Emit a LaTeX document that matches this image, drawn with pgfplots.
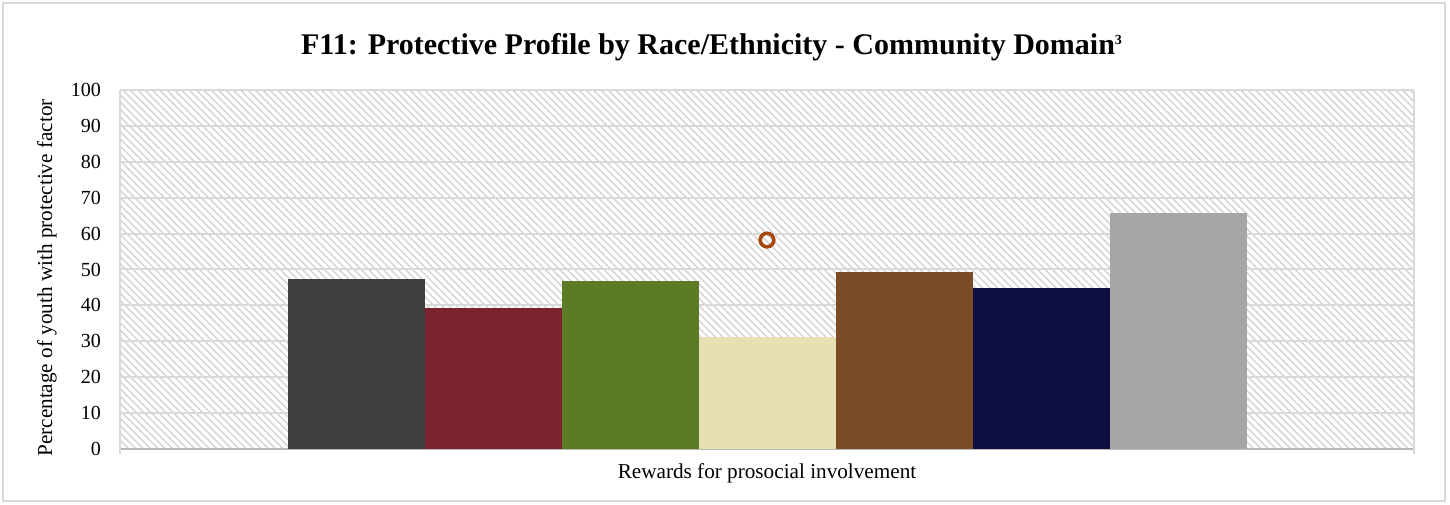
\documentclass[border=0pt]{standalone}
\usepackage{fontspec}
\setmainfont{Liberation Serif}
\usepackage{pgfplots}
\pgfplotsset{compat=1.18}
\usetikzlibrary{patterns.meta}
\definecolor{c1}{RGB}{64,64,64}
\definecolor{c2}{RGB}{123,36,48}
\definecolor{c3}{RGB}{91,123,39}
\definecolor{c4}{RGB}{230,224,178}
\definecolor{c5}{RGB}{123,76,37}
\definecolor{c6}{RGB}{15,14,64}
\definecolor{c7}{RGB}{166,166,166}
\definecolor{mk}{RGB}{166,72,14}
\definecolor{gridc}{RGB}{217,217,217}
\definecolor{hatch}{RGB}{210,210,210}
\begin{document}
\begin{tikzpicture}[x=1pt,y=1pt]
\path[use as bounding box] (0,0) rectangle (725,252);
\draw[color=gridc, line width=1pt] (1.5,1.5) rectangle (722.5,250.5);
\node[anchor=base, font=\bfseries\fontsize{15}{18}\selectfont] at (356,224.5) {F11: Protective Profile by Race/Ethnicity - Community Domain\textsuperscript{\fontsize{7}{8}\selectfont 3}};
\node[rotate=90, font=\fontsize{10.6}{12}\selectfont] at (23.5,113) {Percentage of youth with protective factor};
\begin{axis}[
  at={(60pt,27.5pt)}, anchor=south west,
  scale only axis, width=647pt, height=179.5pt,
  xmin=-1, xmax=1, ymin=0, ymax=100,
  ytick={0,10,...,100},
  xtick={0}, xticklabels={Rewards for prosocial involvement},
  major tick length=0pt,
  ymajorgrids,
  grid style={color=gridc, line width=1pt},
  axis x line*=bottom, axis y line*=left,
  x axis line style={color=gray!55, line width=0.8pt},
  y axis line style={color=gridc, line width=1pt},
  axis background/.style={pattern={Lines[angle=-45, distance=2.6pt, line width=0.7pt]}, pattern color=hatch},
  ticklabel style={font=\fontsize{10}{12}\selectfont},
  /pgf/number format/assume math mode=true,
  yticklabel style={xshift=-6pt},
  xticklabel style={font=\fontsize{10.6}{12}\selectfont, yshift=-4pt},
  clip=false,
]
\draw[color=gridc, line width=1pt] (axis cs:1,-1.5) -- (axis cs:1,100);
\draw[color=gridc, line width=1pt] (axis cs:-1,-1.5) -- (axis cs:-1,100);
\addplot[ybar, bar width=68.5pt, bar shift=-205.5pt, fill=c1, draw=none] coordinates {(0,47.4)};
\addplot[ybar, bar width=68.5pt, bar shift=-137pt, fill=c2, draw=none] coordinates {(0,39.4)};
\addplot[ybar, bar width=68.5pt, bar shift=-68.5pt, fill=c3, draw=none] coordinates {(0,46.8)};
\addplot[ybar, bar width=68.5pt, bar shift=0pt, fill=c4, draw=none] coordinates {(0,31.2)};
\addplot[ybar, bar width=68.5pt, bar shift=68.5pt, fill=c5, draw=none] coordinates {(0,49.3)};
\addplot[ybar, bar width=68.5pt, bar shift=137pt, fill=c6, draw=none] coordinates {(0,44.8)};
\addplot[ybar, bar width=68.5pt, bar shift=205.5pt, fill=c7, draw=none] coordinates {(0,65.7)};
\addplot[only marks, mark=o, mark size=3.4pt, mark options={draw=mk, line width=1.8pt}] coordinates {(0,58.2)};
\end{axis}
\end{tikzpicture}
\end{document}
